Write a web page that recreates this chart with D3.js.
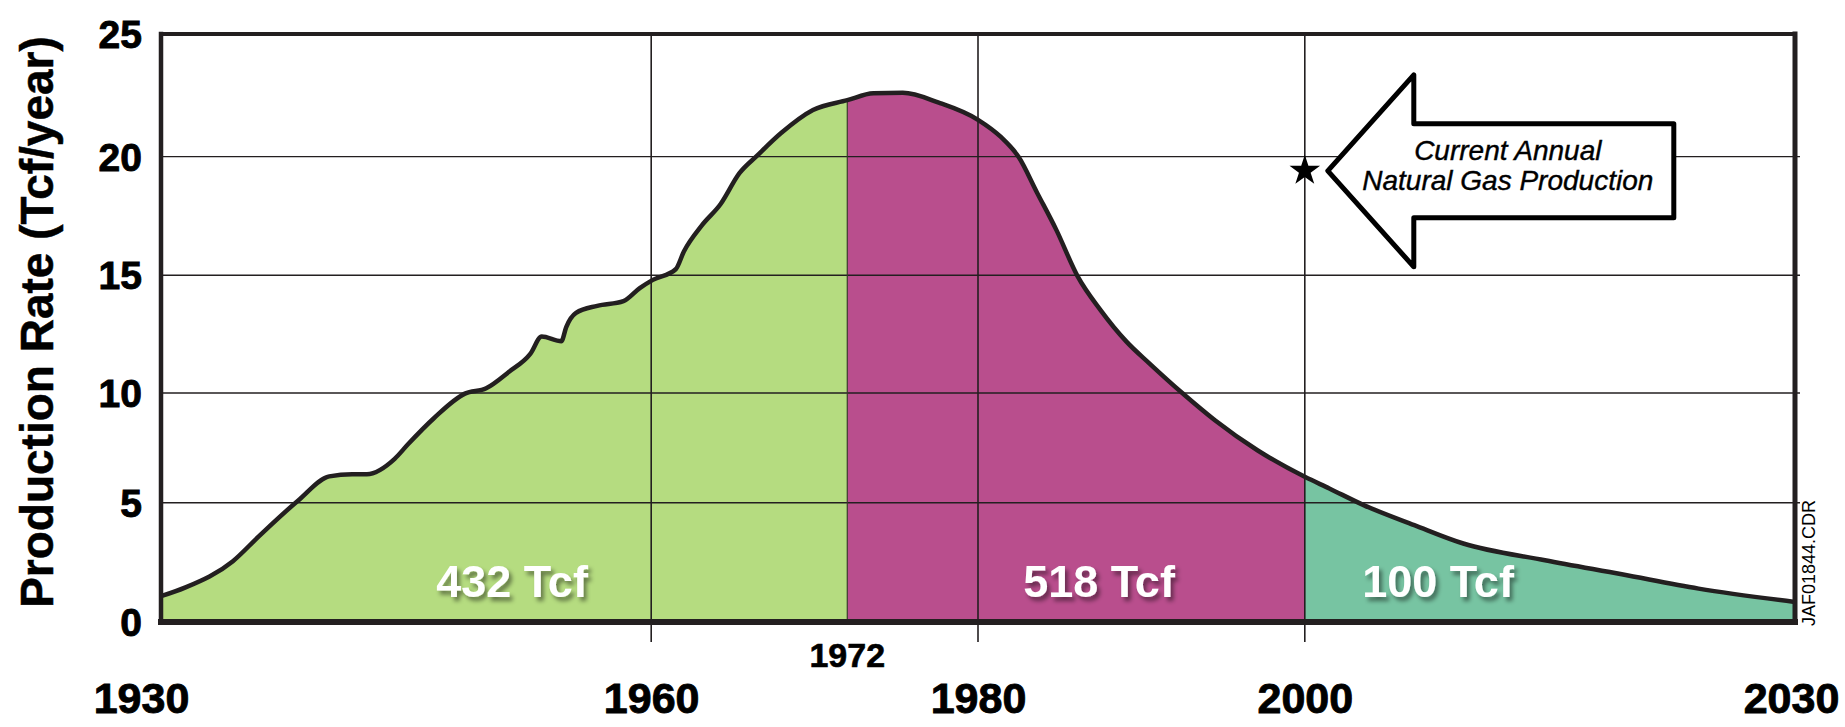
<!DOCTYPE html>
<html><head><meta charset="utf-8">
<script src="https://cdn.jsdelivr.net/npm/d3@7"></script>
<style>
html,body{margin:0;padding:0;background:#fff;}
svg{display:block;font-family:"Liberation Sans",Arial,Helvetica,sans-serif;}
</style></head>
<body>
<svg id="chart" width="1845" height="727"></svg>
<script>
// ---------------- data ----------------
const years = [1930,1931.5,1934.4,1936,1938.4,1940.3,1941.7,1942.6,1944.3,1945.1,1946.7,1948.6,1949.9,1951.3,1952.6,1953.3,1954.5,1954.8,1955.4,1956.7,1958.3,1959.3,1960.1,1961.5,1962.0,1963.1,1964.25,1965.4,1966.5,1967.95,1969.9,1972,1973.6,1975.4,1977.6,1980,1981.4,1982.5,1983.6,1984.8,1986.1,1987.5,1989.1,1990.5,1992.5,1994.5,1997.1,2000,2001.5,2003.6,2006.7,2009.7,2014.7,2019.4,2024.1,2030];
const production = [1.08,1.45,2.55,3.6,5.1,6.2,6.3,6.3,7.0,7.65,8.85,9.97,10.2,10.9,11.66,12.4,12.2,12.8,13.4,13.7,13.9,14.45,14.8,15.25,16.0,17.1,18.0,19.3,20.05,20.96,21.9,22.3,22.58,22.6,22.2,21.5,20.8,19.97,18.5,16.9,14.95,13.52,12.17,11.25,10.0,8.76,7.39,6.18,5.65,4.9,4.06,3.29,2.59,2.0,1.40,0.84];
const yTickValues = [0,5,10,15,20,25];
const xTickYears = [1930,1960,1980,2000,2030];
const peakBoundaryYear = 1972;
const regionBreaks = [1930,1972,2000,2030];
const regionLabels = ["432 Tcf","518 Tcf","100 Tcf"];
const currentYear = 2000;
const currentProduction = 19.4;
const annotationLines = ["Current Annual","Natural Gas Production"];
const yTitle = "Production Rate (Tcf/year)";
const fileTag = "JAF01844.CDR";

// ---------------- style / layout ----------------
const regionColors = ["#b5dc80","#b94e8d","#77c4a2"];
const INK = "#231f20";
const L = 161, R = 1795, T = 34, B = 622;
const labelPos = [[512,597],[1099,597],[1438,597]];

const data = years.map((yr,i)=>({year:yr,value:production[i]}));

const svg = d3.select("#chart");
svg.append("rect").attr("width",1845).attr("height",727).attr("fill","#fff");

const defs = svg.append("defs");
const f = defs.append("filter").attr("id","shadow").attr("x","-20%").attr("y","-30%").attr("width","140%").attr("height","180%");
f.append("feDropShadow").attr("dx",3).attr("dy",4).attr("stdDeviation",2.2)
  .attr("flood-color","#000").attr("flood-opacity",0.45);

const x = d3.scaleLinear().domain([1930,2030]).range([L,R]);
// the drawn grid of the original is slightly irregular; follow it
const y = d3.scaleLinear().domain([0,5,10,15,20,25]).range([B,502.7,393,275.2,156.6,T]);

// region clips
regionBreaks.slice(0,-1).forEach((b,i)=>{
  defs.append("clipPath").attr("id","clip"+i).append("rect")
    .attr("x",x(b)).attr("y",T).attr("width",x(regionBreaks[i+1])-x(b)).attr("height",B-T);
});

const area = d3.area().x(d=>x(d.year)).y0(y(0)).y1(d=>y(d.value)).curve(d3.curveMonotoneX);
const line = d3.line().x(d=>x(d.year)).y(d=>y(d.value)).curve(d3.curveMonotoneX);

regionColors.forEach((c,i)=>{
  svg.append("path").datum(data).attr("d",area).attr("fill",c).attr("clip-path",`url(#clip${i})`);
});

// horizontal gridlines
svg.append("g").selectAll("line").data(yTickValues.filter(v=>v>0&&v<25)).join("line")
  .attr("x1",L).attr("x2",R+5).attr("y1",d=>y(d)).attr("y2",d=>y(d))
  .attr("stroke",INK).attr("stroke-width",1.4);

// vertical gridlines with tick extension
svg.append("g").selectAll("line").data(xTickYears.filter(v=>v>1930&&v<2030)).join("line")
  .attr("x1",d=>x(d)).attr("x2",d=>x(d)).attr("y1",T).attr("y2",B+20)
  .attr("stroke",INK).attr("stroke-width",1.6);

// 1972 boundary
const bVal = production[years.indexOf(peakBoundaryYear)];
svg.append("line").attr("x1",x(peakBoundaryYear)).attr("x2",x(peakBoundaryYear))
  .attr("y1",y(bVal)).attr("y2",B).attr("stroke","#3a3a2a").attr("stroke-width",1.2);

// curve
svg.append("path").datum(data).attr("d",line).attr("fill","none")
  .attr("stroke",INK).attr("stroke-width",4.5).attr("stroke-linejoin","round");

// frame
const frame = svg.append("g").attr("stroke",INK).attr("stroke-linecap","square");
frame.append("line").attr("x1",L).attr("x2",R).attr("y1",T).attr("y2",T).attr("stroke-width",4);
frame.append("line").attr("x1",L).attr("x2",L).attr("y1",T).attr("y2",B).attr("stroke-width",4.5);
frame.append("line").attr("x1",R).attr("x2",R).attr("y1",T).attr("y2",B).attr("stroke-width",5);
frame.append("line").attr("x1",L).attr("x2",R).attr("y1",B).attr("y2",B).attr("stroke-width",6);

// y axis labels
const yAxis = svg.append("g").attr("transform",`translate(${L},0)`)
  .call(d3.axisLeft(y).tickValues(yTickValues).tickSize(0).tickPadding(19).tickFormat(d3.format("d")));
yAxis.select(".domain").remove();
yAxis.selectAll("text").attr("font-size",39).attr("font-weight","bold")
  .attr("font-family","'Liberation Sans',Arial,sans-serif").attr("fill","#000")
  .attr("stroke","#000").attr("stroke-width",0.9).attr("dy","0.35em");

// x axis labels
const xAxis = svg.append("g").attr("transform",`translate(0,${B})`)
  .call(d3.axisBottom(x).tickValues(xTickYears).tickSize(0).tickFormat(d3.format("d")));
xAxis.select(".domain").remove();
xAxis.selectAll("text").attr("y",91).attr("dy",0).attr("font-size",43).attr("font-weight","bold")
  .attr("font-family","'Liberation Sans',Arial,sans-serif").attr("fill","#000")
  .attr("stroke","#000").attr("stroke-width",0.9)
  .attr("dx",d=>d===1930?-20:(d===2030?-4:0));

// 1972 label
svg.append("text").attr("x",x(peakBoundaryYear)).attr("y",B+45).attr("text-anchor","middle")
  .attr("font-size",34).attr("font-weight","bold").attr("fill","#000")
  .attr("stroke","#000").attr("stroke-width",0.6).text(peakBoundaryYear);

// y title
svg.append("text").attr("transform","translate(37,322) rotate(-90)")
  .attr("text-anchor","middle").attr("dominant-baseline","central")
  .attr("font-size",46).attr("font-weight","bold").attr("fill","#000")
  .attr("stroke","#000").attr("stroke-width",0.5).text(yTitle);

// region labels
regionLabels.forEach((t,i)=>{
  svg.append("text").attr("x",labelPos[i][0]).attr("y",labelPos[i][1]).attr("text-anchor","middle")
    .attr("font-size",45).attr("font-weight","bold").attr("fill","#fff")
    .attr("filter","url(#shadow)").text(t);
});

// annotation: star + arrow
const sx = x(currentYear), sy = y(currentProduction);
const tipX = sx+23, headX = sx+109, rightX = sx+369;
const arrowPath = `M${tipX},${sy} L${headX},${sy-96} L${headX},${sy-47} L${rightX},${sy-47} L${rightX},${sy+47} L${headX},${sy+47} L${headX},${sy+96} Z`;
svg.append("path").attr("d",arrowPath).attr("fill","#fff").attr("stroke","#000")
  .attr("stroke-width",5).attr("stroke-linejoin","round");
svg.append("path").attr("d",d3.symbol(d3.symbolStar,290)()).attr("transform",`translate(${sx},${sy})`).attr("fill","#000");
annotationLines.forEach((t,i)=>{
  svg.append("text").attr("x",sx+203).attr("y",sy-11+i*30).attr("text-anchor","middle")
    .attr("font-size",28).attr("font-style","italic").attr("fill","#000")
    .attr("stroke","#000").attr("stroke-width",0.4).text(t);
});

// file tag
svg.append("text").attr("transform","translate(1815,626) rotate(-90)")
  .attr("text-anchor","start").attr("font-size",18).attr("fill","#000").text(fileTag);
</script>
</body></html>
